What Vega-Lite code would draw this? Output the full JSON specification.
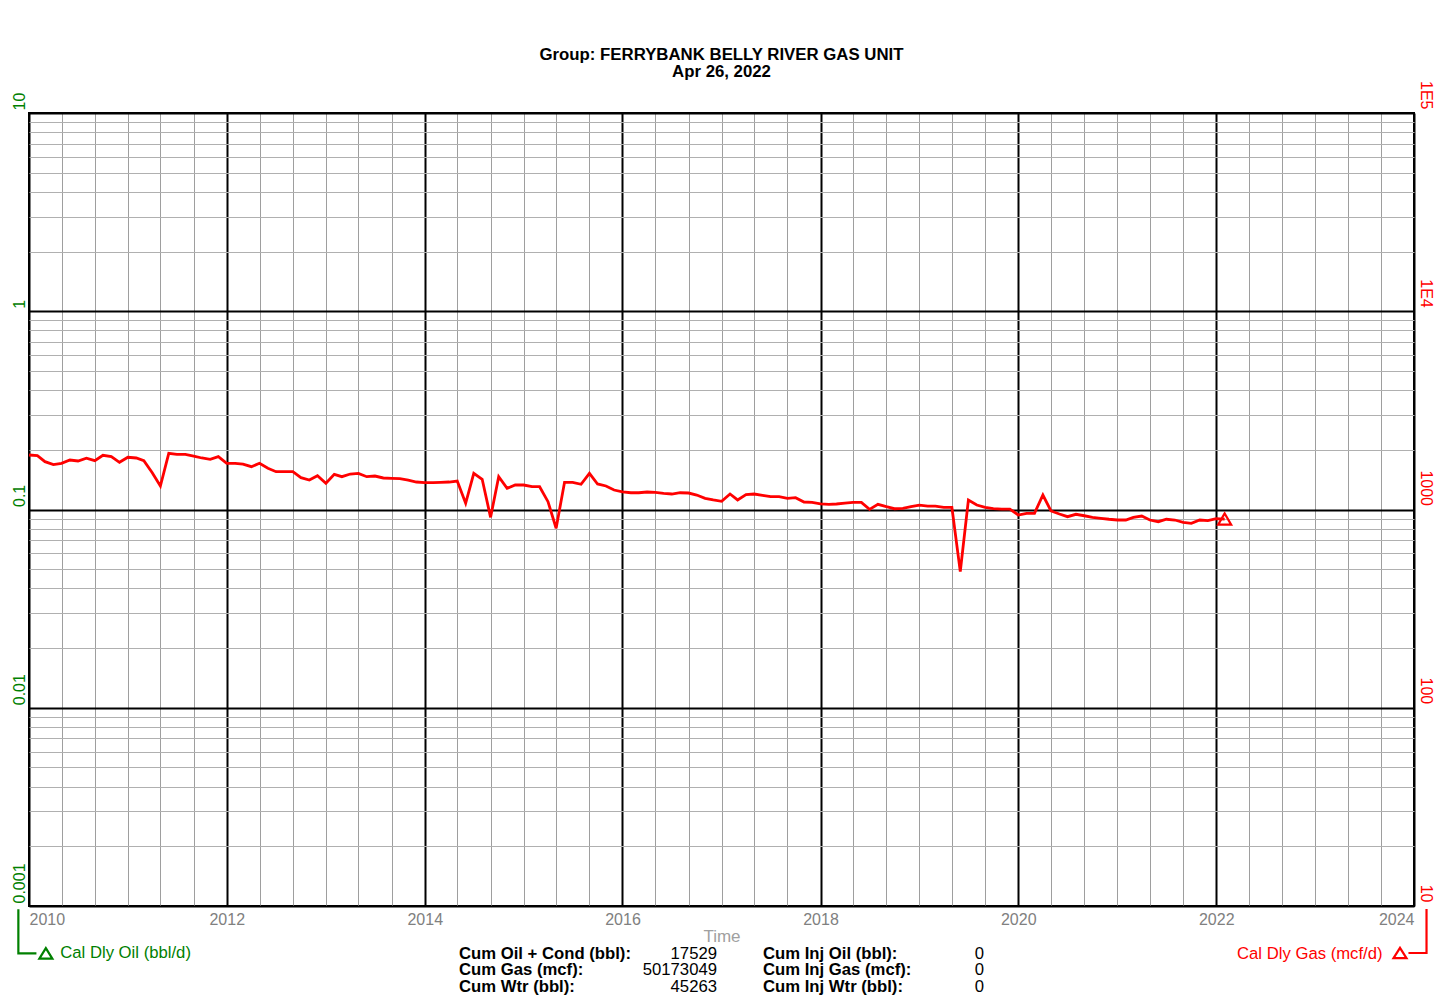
{
  "$schema": "https://vega.github.io/schema/vega-lite/v6.json",
  "width": 1385,
  "height": 793,
  "autosize": {"type": "none"},
  "padding": {"left": 29, "top": 113, "right": 34, "bottom": 98},
  "background": "white",
  "config": {
    "font": "Liberation Sans",
    "view": {"stroke": "black", "strokeWidth": 2}
  },
  "title": {
    "text": ["Group: FERRYBANK BELLY RIVER GAS UNIT", "Apr 26, 2022"],
    "fontSize": 16.8,
    "fontWeight": "bold",
    "color": "black",
    "lineHeight": 16.5,
    "offset": 0,
    "anchor": "middle"
  },
  "datasets": {
    "oil": [],
    "last": [{"date": "2022-02-01", "gas": 895}],
    "stats": [
      {"group": "Production", "fluid": "Oil", "label": "Cum Oil + Cond (bbl):", "value": 17529},
      {"group": "Production", "fluid": "Gas", "label": "Cum Gas (mcf):", "value": 50173049},
      {"group": "Production", "fluid": "Wtr", "label": "Cum Wtr (bbl):", "value": 45263},
      {"group": "Injection", "fluid": "Oil", "label": "Cum Inj Oil (bbl):", "value": 0},
      {"group": "Injection", "fluid": "Gas", "label": "Cum Inj Gas (mcf):", "value": 0},
      {"group": "Injection", "fluid": "Wtr", "label": "Cum Inj Wtr (bbl):", "value": 0}
    ],
    "gas": [
      {"date": "2010-01-01", "gas": 1883}, {"date": "2010-02-01", "gas": 1868}, {"date": "2010-03-01", "gas": 1743}, {"date": "2010-04-01", "gas": 1683},
      {"date": "2010-05-01", "gas": 1710}, {"date": "2010-06-01", "gas": 1777}, {"date": "2010-07-01", "gas": 1757}, {"date": "2010-08-01", "gas": 1813},
      {"date": "2010-09-01", "gas": 1763}, {"date": "2010-10-01", "gas": 1877}, {"date": "2010-11-01", "gas": 1847}, {"date": "2010-12-01", "gas": 1730},
      {"date": "2011-01-01", "gas": 1834}, {"date": "2011-02-01", "gas": 1819}, {"date": "2011-03-01", "gas": 1763}, {"date": "2011-04-01", "gas": 1533},
      {"date": "2011-05-01", "gas": 1314}, {"date": "2011-06-01", "gas": 1920}, {"date": "2011-07-01", "gas": 1898}, {"date": "2011-08-01", "gas": 1898},
      {"date": "2011-09-01", "gas": 1861}, {"date": "2011-10-01", "gas": 1819}, {"date": "2011-11-01", "gas": 1792}, {"date": "2011-12-01", "gas": 1847},
      {"date": "2012-01-01", "gas": 1710}, {"date": "2012-02-01", "gas": 1710}, {"date": "2012-03-01", "gas": 1695}, {"date": "2012-04-01", "gas": 1644},
      {"date": "2012-05-01", "gas": 1710}, {"date": "2012-06-01", "gas": 1614}, {"date": "2012-07-01", "gas": 1551}, {"date": "2012-08-01", "gas": 1551},
      {"date": "2012-09-01", "gas": 1551}, {"date": "2012-10-01", "gas": 1447}, {"date": "2012-11-01", "gas": 1408}, {"date": "2012-12-01", "gas": 1480},
      {"date": "2013-01-01", "gas": 1356}, {"date": "2013-02-01", "gas": 1504}, {"date": "2013-03-01", "gas": 1464}, {"date": "2013-04-01", "gas": 1510},
      {"date": "2013-05-01", "gas": 1522}, {"date": "2013-06-01", "gas": 1464}, {"date": "2013-07-01", "gas": 1475}, {"date": "2013-08-01", "gas": 1442},
      {"date": "2013-09-01", "gas": 1437}, {"date": "2013-10-01", "gas": 1430}, {"date": "2013-11-01", "gas": 1408}, {"date": "2013-12-01", "gas": 1376},
      {"date": "2014-01-01", "gas": 1365}, {"date": "2014-02-01", "gas": 1365}, {"date": "2014-03-01", "gas": 1371}, {"date": "2014-04-01", "gas": 1376},
      {"date": "2014-05-01", "gas": 1392}, {"date": "2014-06-01", "gas": 1075}, {"date": "2014-07-01", "gas": 1522}, {"date": "2014-08-01", "gas": 1420},
      {"date": "2014-09-01", "gas": 913}, {"date": "2014-10-01", "gas": 1464}, {"date": "2014-11-01", "gas": 1279}, {"date": "2014-12-01", "gas": 1329},
      {"date": "2015-01-01", "gas": 1329}, {"date": "2015-02-01", "gas": 1303}, {"date": "2015-03-01", "gas": 1303}, {"date": "2015-04-01", "gas": 1095},
      {"date": "2015-05-01", "gas": 804}, {"date": "2015-06-01", "gas": 1371}, {"date": "2015-07-01", "gas": 1371}, {"date": "2015-08-01", "gas": 1340},
      {"date": "2015-09-01", "gas": 1522}, {"date": "2015-10-01", "gas": 1345}, {"date": "2015-11-01", "gas": 1314}, {"date": "2015-12-01", "gas": 1254},
      {"date": "2016-01-01", "gas": 1227}, {"date": "2016-02-01", "gas": 1215}, {"date": "2016-03-01", "gas": 1215}, {"date": "2016-04-01", "gas": 1225},
      {"date": "2016-05-01", "gas": 1221}, {"date": "2016-06-01", "gas": 1207}, {"date": "2016-07-01", "gas": 1197}, {"date": "2016-08-01", "gas": 1215},
      {"date": "2016-09-01", "gas": 1211}, {"date": "2016-10-01", "gas": 1183}, {"date": "2016-11-01", "gas": 1139}, {"date": "2016-12-01", "gas": 1117},
      {"date": "2017-01-01", "gas": 1100}, {"date": "2017-02-01", "gas": 1197}, {"date": "2017-03-01", "gas": 1117}, {"date": "2017-04-01", "gas": 1188},
      {"date": "2017-05-01", "gas": 1197}, {"date": "2017-06-01", "gas": 1179}, {"date": "2017-07-01", "gas": 1160}, {"date": "2017-08-01", "gas": 1160},
      {"date": "2017-09-01", "gas": 1139}, {"date": "2017-10-01", "gas": 1147}, {"date": "2017-11-01", "gas": 1091}, {"date": "2017-12-01", "gas": 1086},
      {"date": "2018-01-01", "gas": 1068}, {"date": "2018-02-01", "gas": 1062}, {"date": "2018-03-01", "gas": 1066}, {"date": "2018-04-01", "gas": 1078},
      {"date": "2018-05-01", "gas": 1087}, {"date": "2018-06-01", "gas": 1087}, {"date": "2018-07-01", "gas": 1002}, {"date": "2018-08-01", "gas": 1062},
      {"date": "2018-09-01", "gas": 1033}, {"date": "2018-10-01", "gas": 1009}, {"date": "2018-11-01", "gas": 1014}, {"date": "2018-12-01", "gas": 1033},
      {"date": "2019-01-01", "gas": 1053}, {"date": "2019-02-01", "gas": 1041}, {"date": "2019-03-01", "gas": 1041}, {"date": "2019-04-01", "gas": 1026},
      {"date": "2019-05-01", "gas": 1026}, {"date": "2019-06-01", "gas": 486}, {"date": "2019-07-01", "gas": 1117}, {"date": "2019-08-01", "gas": 1053},
      {"date": "2019-09-01", "gas": 1026}, {"date": "2019-10-01", "gas": 1009}, {"date": "2019-11-01", "gas": 1005}, {"date": "2019-12-01", "gas": 1005},
      {"date": "2020-01-01", "gas": 938}, {"date": "2020-02-01", "gas": 957}, {"date": "2020-03-01", "gas": 957}, {"date": "2020-04-01", "gas": 1183},
      {"date": "2020-05-01", "gas": 983}, {"date": "2020-06-01", "gas": 949}, {"date": "2020-07-01", "gas": 920}, {"date": "2020-08-01", "gas": 946},
      {"date": "2020-09-01", "gas": 930}, {"date": "2020-10-01", "gas": 913}, {"date": "2020-11-01", "gas": 903}, {"date": "2020-12-01", "gas": 893},
      {"date": "2021-01-01", "gas": 885}, {"date": "2021-02-01", "gas": 885}, {"date": "2021-03-01", "gas": 913}, {"date": "2021-04-01", "gas": 927},
      {"date": "2021-05-01", "gas": 885}, {"date": "2021-06-01", "gas": 868}, {"date": "2021-07-01", "gas": 893}, {"date": "2021-08-01", "gas": 885},
      {"date": "2021-09-01", "gas": 862}, {"date": "2021-10-01", "gas": 852}, {"date": "2021-11-01", "gas": 885}, {"date": "2021-12-01", "gas": 878},
      {"date": "2022-01-01", "gas": 900}, {"date": "2022-02-01", "gas": 895}
    ]
  },
  "layer": [
    {
      "data": {"name": "oil"},
      "mark": {"type": "line", "strokeWidth": 2},
      "encoding": {
        "x": {
          "field": "date", "type": "temporal",
          "scale": {"type": "utc", "domain": [{"year": 2010, "month": 1, "date": 1, "utc": true}, {"year": 2024, "month": 1, "date": 1, "utc": true}]},
          "axis": {
            "orient": "bottom",
            "tickCount": {"interval": "month", "step": 4},
            "grid": true,
            "gridColor": {"condition": {"test": "utcmonth(datum.value) == 0 && utcyear(datum.value) % 2 == 0", "value": "#000000"}, "value": "#9e9e9e"},
            "gridWidth": {"condition": {"test": "utcmonth(datum.value) == 0 && utcyear(datum.value) % 2 == 0", "value": 2}, "value": 1},
            "ticks": false,
            "tickSize": 0,
            "domain": false,
            "labelExpr": "utcmonth(datum.value) == 0 && utcyear(datum.value) % 2 == 0 ? utcFormat(datum.value, '%Y') : ''",
            "labelOverlap": false,
            "labelFlush": true,
            "labelColor": "#808080",
            "labelFontSize": 16,
            "labelPadding": 5,
            "title": "Time",
            "titleColor": "#a0a0a0",
            "titleFontSize": 17,
            "titleFontWeight": "normal",
            "titlePadding": 1
          }
        },
        "y": {
          "field": "oil", "type": "quantitative",
          "scale": {"type": "log", "domain": [0.001, 10]},
          "axis": {
            "orient": "left",
            "values": [0.001, 0.01, 0.1, 1, 10],
            "format": "~g",
            "grid": false,
            "ticks": false,
            "tickSize": 0,
            "domain": false,
            "labelAngle": 270,
            "labelAlign": "left",
            "labelBaseline": "middle",
            "labelColor": "#008000",
            "labelFontSize": 16,
            "labelPadding": 10,
            "labelOffset": -3,
            "labelOverlap": false,
            "title": null
          }
        },
        "stroke": {
          "datum": "Cal Dly Oil (bbl/d)", "type": "nominal",
          "scale": {"domain": ["Cal Dly Oil (bbl/d)"], "range": ["#008000"]},
          "legend": {
            "orient": "none", "legendX": 8.5, "legendY": 832,
            "title": null, "padding": 0,
            "symbolType": "M0,-0.8L1,0.8L-1,0.8Z M-1.45,0L-4.23,0L-4.23,-6.77",
            "symbolSize": 169, "symbolStrokeWidth": 2.2, "symbolFillColor": "transparent",
            "labelFontSize": 16.7, "labelColor": "#008000", "labelOffset": 6, "labelLimit": 0
          }
        }
      }
    },
    {
      "data": {"name": "gas"},
      "mark": {"type": "line", "strokeWidth": 2.8},
      "encoding": {
        "x": {
          "field": "date", "type": "temporal",
          "scale": {"type": "utc", "domain": [{"year": 2010, "month": 1, "date": 1, "utc": true}, {"year": 2024, "month": 1, "date": 1, "utc": true}]},
          "axis": null
        },
        "y": {
          "field": "gas", "type": "quantitative",
          "scale": {"type": "log", "domain": [10, 100000]},
          "axis": {
            "orient": "right",
            "values": [10, 20, 30, 40, 50, 60, 70, 80, 90, 100, 200, 300, 400, 500, 600, 700, 800, 900, 1000, 2000, 3000, 4000, 5000, 6000, 7000, 8000, 9000, 10000, 20000, 30000, 40000, 50000, 60000, 70000, 80000, 90000, 100000],
            "labelExpr": "datum.value == 10 ? '10' : datum.value == 100 ? '100' : datum.value == 1000 ? '1000' : datum.value == 10000 ? '1E4' : datum.value == 100000 ? '1E5' : ''",
            "grid": true,
            "gridColor": {"condition": {"test": "datum.value == 10 || datum.value == 100 || datum.value == 1000 || datum.value == 10000 || datum.value == 100000", "value": "#000000"}, "value": "#b0b0b0"},
            "gridWidth": {"condition": {"test": "datum.value == 10 || datum.value == 100 || datum.value == 1000 || datum.value == 10000 || datum.value == 100000", "value": 2}, "value": 1},
            "ticks": false,
            "tickSize": 0,
            "domain": false,
            "labelAngle": 90,
            "labelAlign": "right",
            "labelBaseline": "middle",
            "labelColor": "#ff0000",
            "labelFontSize": 16,
            "labelPadding": 11,
            "labelOffset": -4,
            "labelOverlap": false,
            "title": null
          }
        },
        "stroke": {
          "datum": "Cal Dly Gas (mcf/d)", "type": "nominal",
          "scale": {"domain": ["Cal Dly Gas (mcf/d)"], "range": ["#ff0000"]},
          "legend": {
            "orient": "none", "legendX": 1208, "legendY": 832,
            "title": "Cal Dly Gas (mcf/d)", "titleOrient": "left",
            "titleFontSize": 16.7, "titleFontWeight": "normal", "titleColor": "#ff0000", "titlePadding": 9,
            "titleLimit": 0,
            "padding": 0,
            "labelExpr": "''",
            "labelOffset": 0,
            "symbolType": "M0,-0.8L1,0.8L-1,0.8Z M1.3,0L4.08,0L4.08,-6.77",
            "symbolSize": 169, "symbolStrokeWidth": 2.2, "symbolFillColor": "transparent"
          }
        }
      }
    },
    {
      "data": {"name": "last"},
      "mark": {"type": "point", "shape": "triangle-up", "size": 169, "filled": false, "stroke": "#ff0000", "strokeWidth": 2.2, "opacity": 1},
      "encoding": {
        "x": {
          "field": "date", "type": "temporal",
          "scale": {"type": "utc", "domain": [{"year": 2010, "month": 1, "date": 1, "utc": true}, {"year": 2024, "month": 1, "date": 1, "utc": true}]},
          "axis": null
        },
        "y": {"field": "gas", "type": "quantitative", "scale": {"type": "log", "domain": [10, 100000]}, "axis": null}
      }
    },
    {
      "data": {"name": "stats"},
      "mark": {"type": "text", "align": "left", "baseline": "alphabetic", "fontWeight": "bold", "fontSize": 16.7, "color": "#000000"},
      "encoding": {
        "x": {"field": "group", "type": "nominal", "scale": {"type": "point", "domain": ["Production", "Injection"], "range": [430, 734], "padding": 0}, "axis": null},
        "y": {"field": "fluid", "type": "nominal", "scale": {"type": "point", "domain": ["Oil", "Gas", "Wtr"], "range": [845.7, 878.7], "padding": 0}, "axis": null},
        "text": {"field": "label", "type": "nominal"}
      }
    },
    {
      "data": {"name": "stats"},
      "mark": {"type": "text", "align": "right", "baseline": "alphabetic", "fontWeight": "normal", "fontSize": 16.7, "color": "#000000"},
      "encoding": {
        "x": {"field": "group", "type": "nominal", "scale": {"type": "point", "domain": ["Production", "Injection"], "range": [688, 955], "padding": 0}, "axis": null},
        "y": {"field": "fluid", "type": "nominal", "scale": {"type": "point", "domain": ["Oil", "Gas", "Wtr"], "range": [845.7, 878.7], "padding": 0}, "axis": null},
        "text": {"field": "value", "type": "nominal"}
      }
    }
  ],
  "resolve": {"scale": {"x": "independent", "y": "independent", "stroke": "independent"}}
}
